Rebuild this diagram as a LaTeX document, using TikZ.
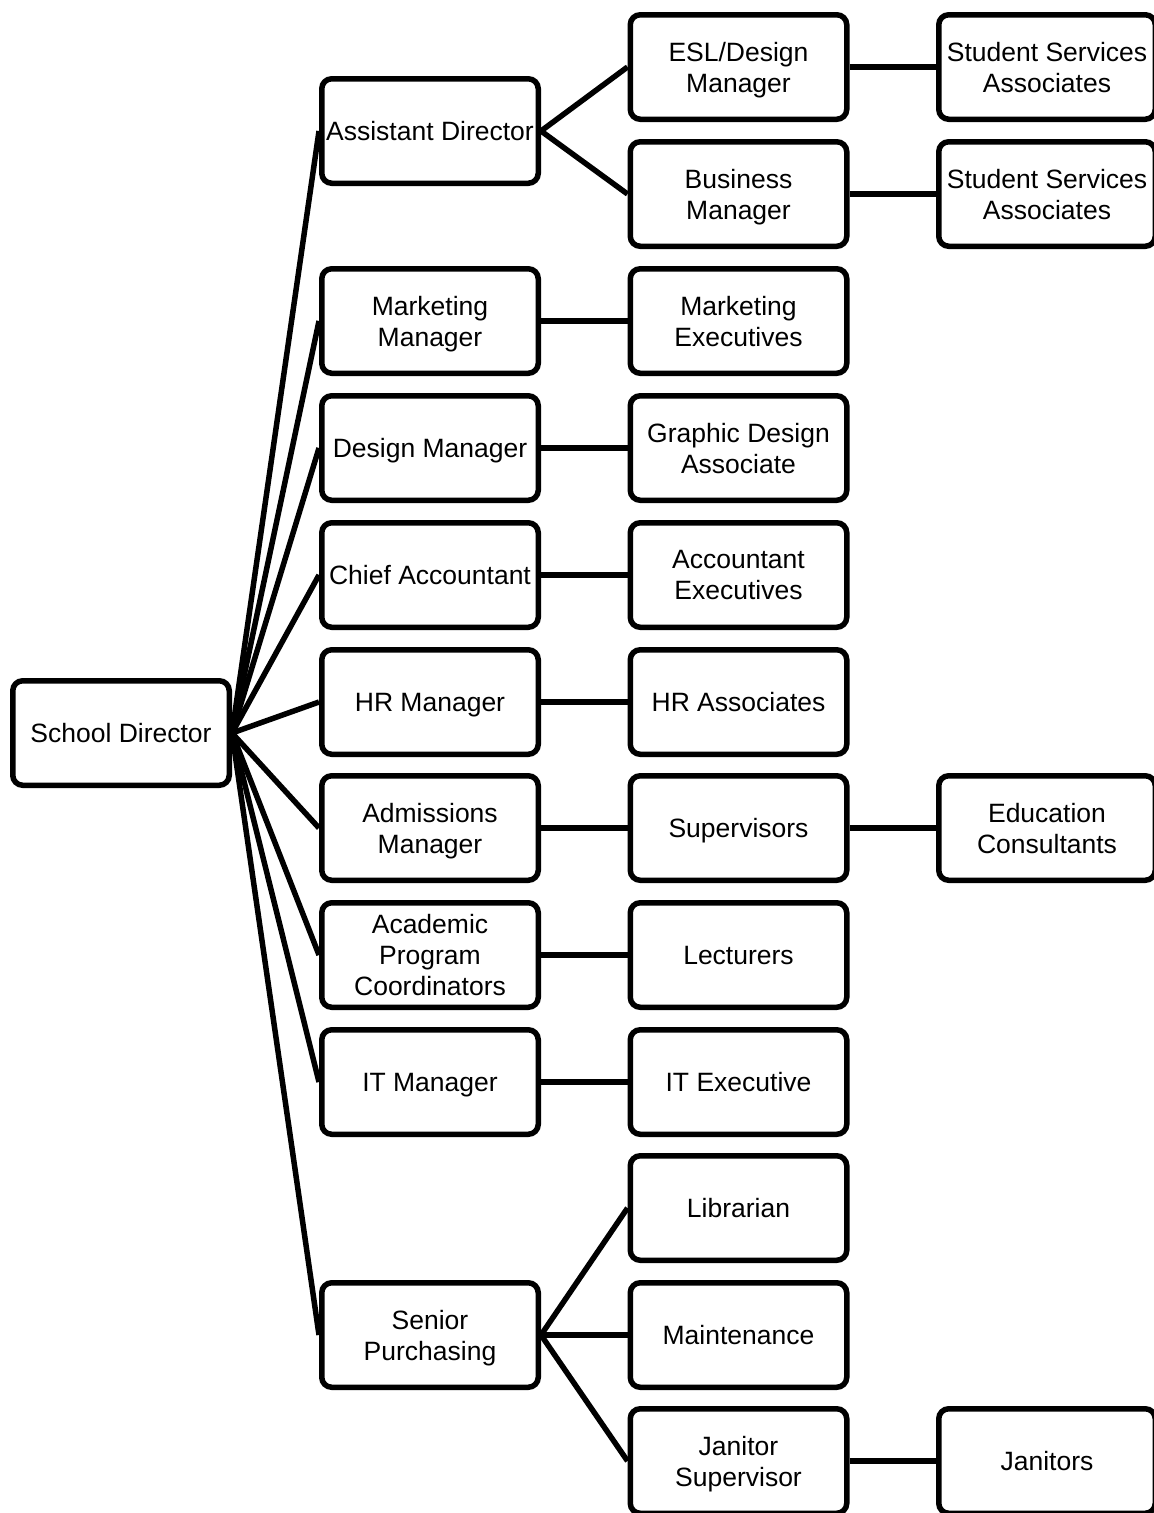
\documentclass[tikz,border=0pt]{standalone}
\usepackage{fontspec}
\setmainfont{Liberation Sans}
\begin{document}
\begin{tikzpicture}[x=1pt,y=-1pt,
  box/.style={draw=black, line width=5.5pt, rounded corners=10pt, fill=white,
    minimum width=216.5pt, minimum height=104.5pt, inner sep=0pt, align=center,
    text depth=0pt, font=\fontsize{26.5}{31}\selectfont},
  link/.style={line width=5.5pt, black}]
\clip (0,0) rectangle (1154,1513);
\fill[white] (0,0) rectangle (1154,1513);
% column 1
\node[box] (sd) at (121,733) {School Director};
% column 2
\node[box] (ad) at (430,131) {Assistant Director};
\node[box] (mm) at (430,321) {Marketing\\Manager};
\node[box] (dm) at (430,448) {Design Manager};
\node[box] (ca) at (430,575) {Chief Accountant};
\node[box] (hr) at (430,702) {HR Manager};
\node[box] (am) at (430,828) {Admissions\\Manager};
\node[box] (ap) at (430,955) {Academic\\Program\\Coordinators};
\node[box] (it) at (430,1082) {IT Manager};
\node[box] (sp) at (430,1335) {Senior\\Purchasing};
% column 3
\node[box] (esl) at (738.5,67) {ESL/Design\\Manager};
\node[box] (bm) at (738.5,194) {Business\\Manager};
\node[box] (me) at (738.5,321) {Marketing\\Executives};
\node[box] (gd) at (738.5,448) {Graphic Design\\Associate};
\node[box] (ae) at (738.5,575) {Accountant\\Executives};
\node[box] (hra) at (738.5,702) {HR Associates};
\node[box] (sup) at (738.5,828) {Supervisors};
\node[box] (lec) at (738.5,955) {Lecturers};
\node[box] (ite) at (738.5,1082) {IT Executive};
\node[box] (lib) at (738.5,1208) {Librarian};
\node[box] (mnt) at (738.5,1335) {Maintenance};
\node[box] (js) at (738.5,1461) {Janitor\\Supervisor};
% column 4
\node[box] (ssa1) at (1047,67) {Student Services\\Associates};
\node[box] (ssa2) at (1047,194) {Student Services\\Associates};
\node[box] (ec) at (1047,828) {Education\\Consultants};
\node[box] (jan) at (1047,1461) {Janitors};
% connectors
\foreach \t in {ad,mm,dm,ca,hr,am,ap,it,sp}
  \draw[link] (sd.east) -- (\t.west);
\draw[link] (ad.east) -- (esl.west);
\draw[link] (ad.east) -- (bm.west);
\draw[link] (mm) -- (me);
\draw[link] (dm) -- (gd);
\draw[link] (ca) -- (ae);
\draw[link] (hr) -- (hra);
\draw[link] (am) -- (sup);
\draw[link] (ap) -- (lec);
\draw[link] (it) -- (ite);
\draw[link] (sp.east) -- (lib.west);
\draw[link] (sp.east) -- (mnt.west);
\draw[link] (sp.east) -- (js.west);
\draw[link] (esl) -- (ssa1);
\draw[link] (bm) -- (ssa2);
\draw[link] (sup) -- (ec);
\draw[link] (js) -- (jan);
\end{tikzpicture}
\end{document}
